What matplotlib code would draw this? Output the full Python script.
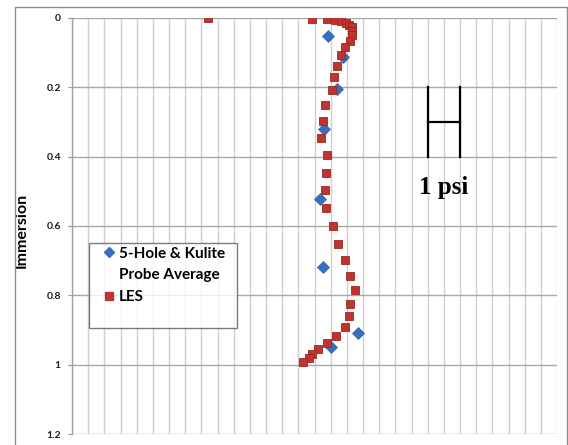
import matplotlib

matplotlib.use("Agg")
from matplotlib import pyplot as plt
from matplotlib.lines import Line2D
from matplotlib.patches import Rectangle

# LES pressure profile (x in psi units, y = immersion)
les_x = [4.22, 7.43, 7.90, 8.13, 8.32, 8.47, 8.58, 8.65, 8.67, 8.67, 8.60, 8.44,
         8.32, 8.19, 8.09, 8.05, 7.83, 7.76, 7.70, 7.89, 7.85, 7.83, 7.86, 8.06,
         8.24, 8.44, 8.60, 8.75, 8.60, 8.57, 8.44, 8.15, 7.89, 7.62, 7.42, 7.32, 7.15]
les_y = [0.000, 0.003, 0.004, 0.006, 0.010, 0.014, 0.019, 0.027, 0.037, 0.048, 0.065, 0.085,
         0.107, 0.138, 0.171, 0.209, 0.251, 0.298, 0.345, 0.395, 0.446, 0.496, 0.549, 0.601,
         0.652, 0.699, 0.744, 0.785, 0.824, 0.860, 0.890, 0.917, 0.938, 0.955, 0.970, 0.982, 0.993]

# 5-hole & Kulite probe average
probe_x = [7.93, 8.39, 8.21, 7.80, 7.67, 7.77, 8.85, 8.00]
probe_y = [0.052, 0.112, 0.204, 0.321, 0.522, 0.719, 0.910, 0.950]

y_ticks = [0, 0.2, 0.4, 0.6, 0.8, 1, 1.2]
y_tick_labels = ["0", "0.2", "0.4", "0.6", "0.8", "1", "1.2"]

W, H = 568, 445
fig = plt.figure(figsize=(W / 100, H / 100), dpi=100)
fig.patch.set_facecolor("white")
fig.patches.append(Rectangle((14.5 / W, -0.1), (567 - 14.5) / W, 1.1 - 7.5 / H,
                             transform=fig.transFigure, fill=False,
                             edgecolor="#8c8c8c", linewidth=1.0))

ax = fig.add_axes([72 / W, 1 - 434 / H, (557 - 72) / W, (434 - 18) / H])

ax.plot(probe_x, probe_y, linestyle="none", marker="D", markersize=6.2,
        color="#3a6fbf", markeredgecolor="#2e5ea8", markeredgewidth=0.5, zorder=3)
ax.plot(les_x, les_y, linestyle="none", marker="s", markersize=5.6,
        color="#c0342f", markeredgecolor="#9a2622", markeredgewidth=0.6, zorder=4)

# 1 psi scale bar
ax.plot([11, 11], [0.2, 0.4], color="black", linewidth=1.6, zorder=5)
ax.plot([12, 12], [0.2, 0.4], color="black", linewidth=1.6, zorder=5)
ax.plot([11, 12], [0.3, 0.3], color="black", linewidth=1.6, zorder=5)
ax.text(11.5, 0.508, "1 psi", ha="center", va="baseline", fontsize=18,
        fontweight="bold", family="Liberation Serif", color="black")

ax.set_xlim(0, 15)
ax.set_ylim(1.2, 0)
ax.set_xticks([i * 0.5 for i in range(31)])
ax.set_xticklabels([])
ax.tick_params(axis="x", length=0)
ax.set_yticks(y_ticks)
ax.set_yticklabels(y_tick_labels, fontsize=7.5, fontweight="bold",
                   family="Lato", color="#1a1a1a")
ax.tick_params(axis="y", length=3, width=0.9, color="#9a9a9a", pad=5)
ax.grid(axis="x", color="#d0d0d0", linewidth=1.0, zorder=0)
ax.grid(axis="y", color="#a8a8a8", linewidth=1.0, zorder=0)
ax.set_axisbelow(True)
for side in ["top", "right", "bottom"]:
    ax.spines[side].set_visible(False)
ax.spines["left"].set_color("#a0a0a0")
ax.spines["left"].set_linewidth(1.0)

ax.set_ylabel("Immersion", fontsize=11.5, fontweight="bold", family="Lato", color="black")
ax.yaxis.set_label_coords((28.5 - 72) / 485, (434 - 230.5) / 416)

handles = [
    Line2D([], [], linestyle="none", marker="D", markersize=4.8, color="#3a6fbf"),
    Line2D([], [], linestyle="none"),
    Line2D([], [], linestyle="none", marker="s", markersize=5.4, color="#c0342f"),
    Line2D([], [], linestyle="none"),
]
labels = ["5-Hole & Kulite  ", "Probe Average", "LES", " "]
leg = ax.legend(handles, labels, loc="upper left",
                bbox_to_anchor=((89 - 72) / 485, (434 - 243) / 416),
                borderaxespad=0, frameon=True, fancybox=False,
                prop={"family": "Lato", "weight": "bold", "size": 11},
                handlelength=2.12, handletextpad=-0.4, labelspacing=0.5,
                borderpad=0.25)
leg.get_texts()[3].set_fontsize(9)
leg.get_frame().set_edgecolor("#5a5a5a")
leg.get_frame().set_linewidth(1.0)

fig.savefig("out.png", dpi=100)
